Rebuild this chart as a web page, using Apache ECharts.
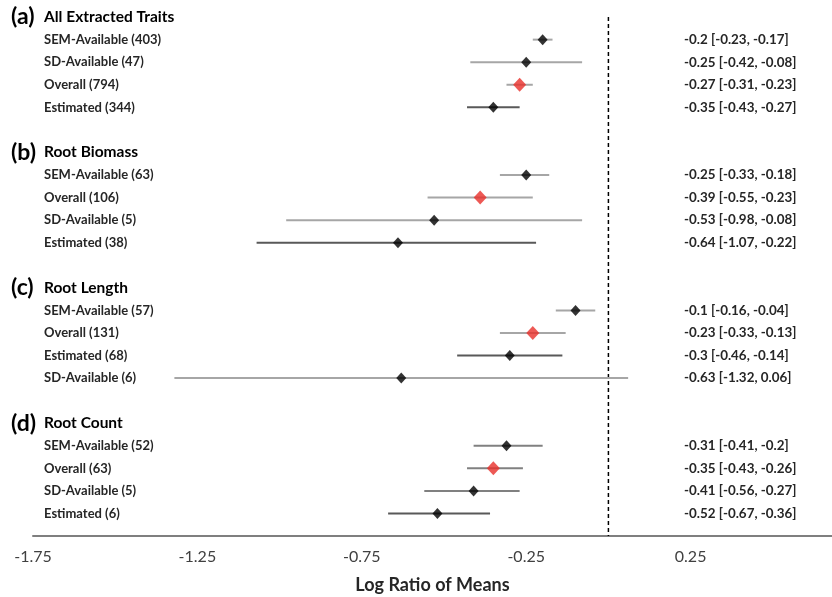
<!DOCTYPE html>
<html>
<head>
<meta charset="utf-8">
<script src="https://cdn.jsdelivr.net/npm/echarts@6/dist/echarts.min.js"></script>
<style>
  html, body { margin: 0; padding: 0; background: #fff; }
  #chart { width: 832px; height: 597px; }
</style>
</head>
<body>
<div id="chart"></div>
<script>
// panel tags and titles
var sectionTags = ["(a)", "(b)", "(c)", "(d)"];
var sectionTitles = ["All Extracted Traits", "Root Biomass", "Root Length", "Root Count"];

// rows, 4 per panel, top to bottom
var rowLabels = [
  "SEM-Available (403)", "SD-Available (47)", "Overall (794)", "Estimated (344)",
  "SEM-Available (63)", "Overall (106)", "SD-Available (5)", "Estimated (38)",
  "SEM-Available (57)", "Overall (131)", "Estimated (68)", "SD-Available (6)",
  "SEM-Available (52)", "Overall (63)", "SD-Available (5)", "Estimated (6)"
];
var means = [-0.2, -0.25, -0.27, -0.35, -0.25, -0.39, -0.53, -0.64, -0.1, -0.23, -0.3, -0.63, -0.31, -0.35, -0.41, -0.52];
var lower = [-0.23, -0.42, -0.31, -0.43, -0.33, -0.55, -0.98, -1.07, -0.16, -0.33, -0.46, -1.32, -0.41, -0.43, -0.56, -0.67];
var upper = [-0.17, -0.08, -0.23, -0.27, -0.18, -0.23, -0.08, -0.22, -0.04, -0.13, -0.14, 0.06, -0.2, -0.26, -0.27, -0.36];

var xTicks = [-1.75, -1.25, -0.75, -0.25, 0.25];

var chart = echarts.init(document.getElementById("chart"));

// each panel takes 6 slots: header, 4 rows, blank
function slotOf(i) {
  return Math.floor(i / 4) * 6 + 1 + (i % 4);
}

var leftText = {};
var rightText = {};
sectionTags.forEach(function (tag, s) {
  leftText[s * 6] = "{tag|" + tag + "}{hd|" + sectionTitles[s] + "}";
});

var barData = [];
var pointData = [];
rowLabels.forEach(function (name, i) {
  var slot = slotOf(i);
  leftText[slot] = "{sp| }{row|" + name + "}";
  rightText[slot] = means[i] + " [" + lower[i] + ", " + upper[i] + "]";
  var isOverall = name.indexOf("Overall") === 0;
  var isEst = name.indexOf("Estimated") === 0;
  barData.push({
    value: [slot, lower[i], upper[i]],
    itemStyle: { color: isEst ? "#595959" : (i >= 12 ? "#808080" : "#a6a6a6") },
  });
  pointData.push({
    value: [means[i], slot],
    symbolSize: isOverall ? [13, 14] : [10, 11],
    itemStyle: { color: isOverall ? "#e8302a" : "#000" },
  });
});

var font = "Lato, 'Open Sans', sans-serif";

var option = {
  animation: false,
  backgroundColor: "#fff",
  textStyle: { fontFamily: font },
  grid: { left: 33, right: 0, top: -5.5, bottom: 61, containLabel: false, outerBoundsMode: "none" },
  xAxis: {
    type: "value",
    min: -1.75,
    max: 0.68,
    interval: 0.5,
    axisLine: { onZero: false, lineStyle: { color: "#7f7f7f", width: 2 } },
    axisTick: { show: false },
    splitLine: { show: false },
    axisLabel: {
      showMaxLabel: false,
      color: "#404040",
      fontSize: 16,
      margin: 13,
      fontFamily: font,
      formatter: function (v) {
        var hit = xTicks.filter(function (t) { return Math.abs(t - v) < 1e-6; });
        return hit.length ? String(hit[0]) : "";
      },
    },
    name: "Log Ratio of Means",
    nameLocation: "middle",
    nameGap: 40,
    nameTextStyle: { fontSize: 18, fontWeight: "bold", color: "#262626", fontFamily: font },
  },
  yAxis: [
    {
      type: "value",
      inverse: true,
      min: -1,
      max: 23,
      interval: 1,
      position: "left",
      axisLine: { show: false, onZero: false },
      axisTick: { show: false },
      splitLine: { show: false },
      axisLabel: {
        align: "left",
        margin: 22,
        formatter: function (v) { return leftText[Math.round(v)] || ""; },
        rich: {
          tag: { fontSize: 23, fontWeight: "bold", color: "#000", width: 33, fontFamily: font },
          hd: { fontSize: 15.5, fontWeight: "bold", color: "#000", fontFamily: font },
          sp: { width: 33, fontSize: 12 },
          row: { fontSize: 13, fontWeight: "bold", color: "#262626", fontFamily: font },
        },
      },
    },
    {
      type: "value",
      inverse: true,
      min: -1,
      max: 23,
      interval: 1,
      position: "right",
      offset: -148,
      axisLine: { show: false, onZero: false },
      axisTick: { show: false },
      splitLine: { show: false },
      axisLabel: {
        align: "left",
        margin: 0,
        fontSize: 13.4,
        fontWeight: "bold",
        color: "#262626",
        fontFamily: font,
        formatter: function (v) { return rightText[Math.round(v)] || ""; },
      },
    },
  ],
  series: [
    {
      type: "line",
      data: [[0, 0], [0, 23]],
      symbol: "none",
      silent: true,
      lineStyle: { color: "#000", width: 1.5, type: [4, 3] },
      z: 1,
    },
    {
      type: "custom",
      encode: { x: [1, 2], y: 0 },
      data: barData,
      renderItem: function (params, api) {
        var p1 = api.coord([api.value(1), api.value(0)]);
        var p2 = api.coord([api.value(2), api.value(0)]);
        return {
          type: "line",
          shape: { x1: p1[0], y1: p1[1], x2: p2[0], y2: p2[1] },
          style: { stroke: api.visual("color"), lineWidth: 2 },
        };
      },
      z: 2,
    },
    {
      type: "scatter",
      symbol: "diamond",
      data: pointData,
      z: 3,
    },
  ],
};

chart.setOption(option);
</script>
</body>
</html>
